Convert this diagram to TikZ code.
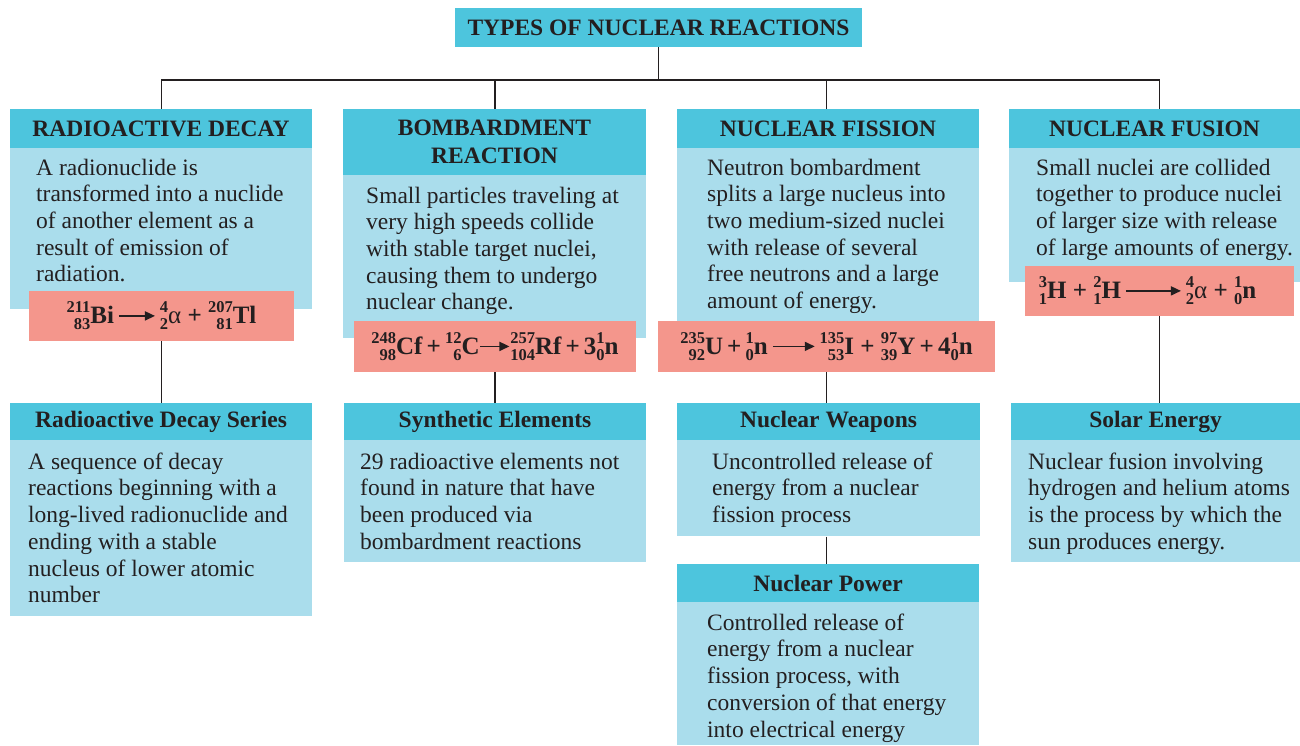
\documentclass[tikz,border=0pt]{standalone}
\usepackage{fontspec}
\setmainfont{Liberation Serif}
\usetikzlibrary{arrows.meta}
\definecolor{hdr}{HTML}{4DC5DD}
\definecolor{bodyc}{HTML}{AADDEC}
\definecolor{rxn}{HTML}{F4968C}
\definecolor{ink}{HTML}{231F20}
\newcommand{\bodyfs}{\fontsize{23.5}{26.7}\selectfont}
\newcommand{\hdfs}{\fontsize{23.5}{28}\selectfont\bfseries}
\newcommand{\iso}[2]{\begingroup\fontsize{16.5}{16.5}\selectfont\bfseries
\setbox0\hbox{#1}\setbox2\hbox{#2}%
\ifdim\wd0>\wd2 \dimen0=\wd0 \else \dimen0=\wd2 \fi
\rlap{\raisebox{11pt}{\hbox to\dimen0{\hfil\box0}}}%
\raisebox{-6pt}{\hbox to\dimen0{\hfil\box2}}\endgroup}
\newcommand{\rarr}[1]{\tikz[baseline={(0pt,-8pt)}]\draw[ink,line width=1.6pt,-{Triangle[length=10pt,width=9pt]}] (0pt,0pt)--(#1,0pt);}
\tikzset{
  hd/.style={fill=hdr, inner sep=0pt, font=\hdfs, text=ink, align=center},
  bd/.style={fill=bodyc, inner sep=0pt},
  rx/.style={fill=rxn, inner sep=0pt, text=ink, font=\fontsize{25}{27}\selectfont\bfseries},
  tx/.style={anchor=north west, inner sep=0pt, align=left, font=\bodyfs, text=ink},
  conn/.style={draw=ink, line width=1.3pt}
}
\begin{document}
\begin{tikzpicture}[x=1pt,y=-1pt]
\useasboundingbox (0,0) rectangle (1300,745);
\fill[white] (0,0) rectangle (1300,745);
% title
\node[hd, minimum width=407, minimum height=39] (title) at (658.5,27.5) {TYPES OF NUCLEAR REACTIONS};
% level 1
\node[bd, minimum width=302, minimum height=161] (b1) at (161,228.5) {};
\node[hd, minimum width=302, minimum height=39] (h1) at (161,128.5) {RADIOACTIVE DECAY};
\node[tx] (t1) at (36,156.3) {\strut A radionuclide is\\transformed into a nuclide\\of another element as a\\result of emission of\\radiation.};
\node[rx, minimum width=265, minimum height=50] (r1) at (161.5,316) {\iso{211}{83}Bi\,\rarr{36pt}\,\iso{4}{2}{\mdseries α} + \iso{207}{81}Tl};

\node[bd, minimum width=303, minimum height=163] (b2) at (494.5,256.5) {};
\node[hd, minimum width=303, minimum height=66] (h2) at (494.5,142) {BOMBARDMENT\\REACTION};
\node[tx] (t2) at (366,184.3) {\strut Small particles traveling at\\very high speeds collide\\with stable target nuclei,\\causing them to undergo\\nuclear change.};
\node[rx, minimum width=282, minimum height=51] (r2) at (495,346.5) {\iso{248}{98}Cf\,+\,\iso{12}{6}C\rarr{29pt}\iso{257}{104}Rf\,+\,3\iso{1}{0}n};

\node[bd, minimum width=302, minimum height=173] (b3) at (828,234.5) {};
\node[hd, minimum width=302, minimum height=39] (h3) at (828,128.5) {NUCLEAR FISSION};
\node[tx] (t3) at (707,156.3) {\strut Neutron bombardment\\splits a large nucleus into\\two medium-sized nuclei\\with release of several\\free neutrons and a large\\amount of energy.};
\node[rx, minimum width=337, minimum height=51] (r3) at (826.5,346.5) {\iso{235}{92}U\,+\,\iso{1}{0}n\,\rarr{42pt}\,\iso{135}{53}I + \iso{97}{39}Y\,+\,4\iso{1}{0}n};

\node[bd, minimum width=291, minimum height=134] (b4) at (1154.5,215) {};
\node[hd, minimum width=291, minimum height=39] (h4) at (1154.5,128.5) {NUCLEAR FUSION};
\node[tx] (t4) at (1036,156.3) {\strut Small nuclei are collided\\together to produce nuclei\\of larger size with release\\of large amounts of energy.};
\node[rx, minimum width=269, minimum height=50] (r4) at (1159.5,291) {\iso{3}{1}H + \iso{2}{1}H\,\rarr{55pt}\,\iso{4}{2}{\mdseries α} + \iso{1}{0}n\kern24pt};

% level 2
\node[hd, minimum width=302, minimum height=37] (l1) at (161,421.5) {Radioactive Decay Series};
\node[bd, minimum width=302, minimum height=176, anchor=north] (m1) at (l1.south) {};
\node[tx] (u1) at (28,450.3) {\strut A sequence of decay\\reactions beginning with a\\long-lived radionuclide and\\ending with a stable\\nucleus of lower atomic\\number};

\node[hd, minimum width=302, minimum height=37] (l2) at (495,421.5) {Synthetic Elements};
\node[bd, minimum width=302, minimum height=122, anchor=north] (m2) at (l2.south) {};
\node[tx] (u2) at (360,450.3) {\strut 29 radioactive elements not\\found in nature that have\\been produced via\\bombardment reactions};

\node[hd, minimum width=303, minimum height=37] (l3) at (828.5,421.5) {Nuclear Weapons};
\node[bd, minimum width=303, minimum height=96, anchor=north] (m3) at (l3.south) {};
\node[tx] (u3) at (712,450.3) {\strut Uncontrolled release of\\energy from a nuclear\\fission process};

\node[hd, minimum width=302, minimum height=38] (l4) at (828,583) {Nuclear Power};
\node[bd, minimum width=302, minimum height=143, anchor=north] (m4) at (l4.south) {};
\node[tx] (u4) at (707,611.3) {\strut Controlled release of\\energy from a nuclear\\fission process, with\\conversion of that energy\\into electrical energy};

\node[hd, minimum width=289, minimum height=37] (l5) at (1155.5,421.5) {Solar Energy};
\node[bd, minimum width=289, minimum height=122, anchor=north] (m5) at (l5.south) {};
\node[tx] (u5) at (1028,450.3) {\strut Nuclear fusion involving\\hydrogen and helium atoms\\is the process by which the\\sun produces energy.};

% connectors
\coordinate (bus) at (658.5,80);
\draw[conn] (title.south) -- (bus);
\draw[conn] (r1.north |- h1.north) -- (r1.north |- bus) -- (r4.north |- bus) -- (r4.north |- h4.north);
\draw[conn] (r2.north |- h2.north) -- (r2.north |- bus);
\draw[conn] (r3.north |- h3.north) -- (r3.north |- bus);
\draw[conn] (r1.south) -- (r1.south |- l1.north);
\draw[conn] (r2.south) -- (r2.south |- l2.north);
\draw[conn] (r3.south) -- (r3.south |- l3.north);
\draw[conn] (r4.south) -- (r4.south |- l5.north);
\draw[conn] (r3.south |- m3.south) -- (r3.south |- l4.north);
\end{tikzpicture}
\end{document}
